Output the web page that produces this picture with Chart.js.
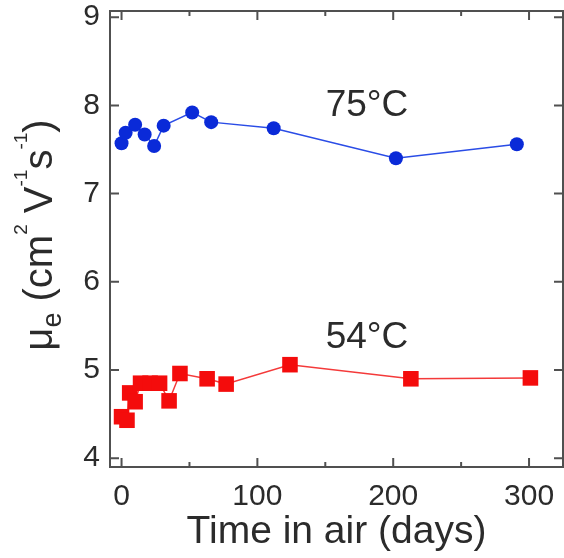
<!DOCTYPE html>
<html><head><meta charset="utf-8">
<script src="https://cdn.jsdelivr.net/npm/chart.js@4"></script>
<style>html,body{margin:0;padding:0;background:#fff;overflow:hidden}</style>
</head><body>
<canvas id="c" width="564" height="558" style="width:564px;height:558px;display:block"></canvas>
<script>
// ---- data ----
const days75 = [0, 3, 10, 17, 24, 31, 52, 66, 112, 202, 291];
const mob75  = [7.57, 7.69, 7.78, 7.67, 7.54, 7.77, 7.92, 7.81, 7.74, 7.40, 7.56];
const days54 = [0, 4, 6, 10, 14, 21, 28, 35, 43, 63, 77, 124, 213, 301];
const mob54  = [4.47, 4.43, 4.74, 4.64, 4.85, 4.85, 4.85, 4.65, 4.96, 4.90, 4.84, 5.06, 4.90, 4.91];
const xTickLabels = [0, 100, 200, 300];
const xMinorTicks = [0, 50, 100, 150, 200, 250, 300];
const yTickLabels = [4, 5, 6, 7, 8, 9];
const seriesNames = ['75°C', '54°C'];

const FONT = "'Liberation Sans', Arial, sans-serif";
const TXT = '#2b2b2b';

function pts(xs, ys){ return xs.map((x,i)=>({x:x, y:ys[i]})); }

const framePlugin = {
  id:'frame',
  afterDraw(chart){
    const ctx = chart.ctx, a = chart.chartArea;
    const xs = chart.scales.x, ys = chart.scales.y;
    ctx.save();
    ctx.strokeStyle = '#505050';
    ctx.lineWidth = 2;
    ctx.strokeRect(a.left, a.top, a.right - a.left, a.bottom - a.top);
    ctx.beginPath();
    xMinorTicks.forEach(v=>{
      const px = xs.getPixelForValue(v);
      const L = xTickLabels.includes(v) ? 9 : 5;
      ctx.moveTo(px, a.bottom); ctx.lineTo(px, a.bottom - L);
      ctx.moveTo(px, a.top); ctx.lineTo(px, a.top + L);
    });
    yTickLabels.forEach(v=>{
      const py = ys.getPixelForValue(v);
      ctx.moveTo(a.left, py); ctx.lineTo(a.left + 9, py);
      ctx.moveTo(a.right, py); ctx.lineTo(a.right - 9, py);
    });
    ctx.stroke();

    // series annotations
    ctx.fillStyle = TXT;
    ctx.font = '37px ' + FONT;
    ctx.textAlign = 'center';
    ctx.textBaseline = 'alphabetic';
    ctx.fillText(seriesNames[0], 367, 116);
    ctx.fillText(seriesNames[1], 367, 348);

    // y axis title with sub/superscripts
    const segs = [
      {t:'μ', s:40, dy:0},
      {t:'e', s:27, dy:9},
      {t:' (cm', s:40, dy:0},
      {t:'2', s:19, dy:-25},
      {t:' V', s:40, dy:0},
      {t:'-1', s:19, dy:-25},
      {t:'s', s:40, dy:0},
      {t:'-1', s:19, dy:-25},
      {t:')', s:40, dy:0}
    ];
    let total = 0;
    segs.forEach(g=>{ ctx.font = g.s + 'px ' + FONT; g.w = ctx.measureText(g.t).width; total += g.w; });
    ctx.translate(52, (a.top + a.bottom)/2 - 4);
    ctx.rotate(-Math.PI/2);
    ctx.textAlign = 'left';
    let x = -total/2;
    segs.forEach(g=>{ ctx.font = g.s + 'px ' + FONT; ctx.fillText(g.t, x, g.dy); x += g.w; });
    ctx.restore();
  }
};

new Chart(document.getElementById('c'), {
  type:'scatter',
  data:{ datasets:[
    { label:seriesNames[0], data:pts(days75, mob75), showLine:true,
      borderColor:'#2a4ce6', borderWidth:1.5, backgroundColor:'#0a2ad8',
      pointBackgroundColor:'#0a2ad8', pointBorderColor:'#0a2ad8',
      pointStyle:'circle', pointRadius:7, pointBorderWidth:0 },
    { label:seriesNames[1], data:pts(days54, mob54), showLine:true,
      borderColor:'#f43a3a', borderWidth:1.5, backgroundColor:'#f40c0c',
      pointBackgroundColor:'#f40c0c', pointBorderColor:'#f40c0c',
      pointStyle:'rect', pointRadius:11, pointBorderWidth:0 }
  ]},
  options:{
    responsive:false, animation:false, devicePixelRatio:1,
    layout:{ autoPadding:false, padding:{ top:11, right:1, left:0, bottom:0 } },
    plugins:{ legend:{display:false}, tooltip:{enabled:false} },
    scales:{
      x:{ type:'linear', min:-8.5, max:325,
        afterBuildTicks:s=>{ s.ticks = xTickLabels.map(v=>({value:v})); },
        afterFit:s=>{ s.height = 91; s.paddingLeft = 0; s.paddingRight = 0; },
        grid:{ display:false, drawTicks:false }, border:{ display:false },
        ticks:{ font:{ family:FONT, size:30 }, color:TXT, padding:12, maxRotation:0, autoSkip:false },
        title:{ display:true, text:'Time in air (days)', color:TXT,
          font:{ family:FONT, size:39 }, padding:{ top:0, bottom:2 } }
      },
      y:{ type:'linear', min:3.9, max:9.07,
        afterBuildTicks:s=>{ s.ticks = yTickLabels.map(v=>({value:v})); },
        afterFit:s=>{ s.width = 110; s.paddingTop = 0; s.paddingBottom = 0; },
        grid:{ display:false, drawTicks:false }, border:{ display:false },
        ticks:{ font:{ family:FONT, size:30 }, color:TXT, padding:10, autoSkip:false }
      }
    }
  },
  plugins:[framePlugin]
});
</script>
</body></html>
